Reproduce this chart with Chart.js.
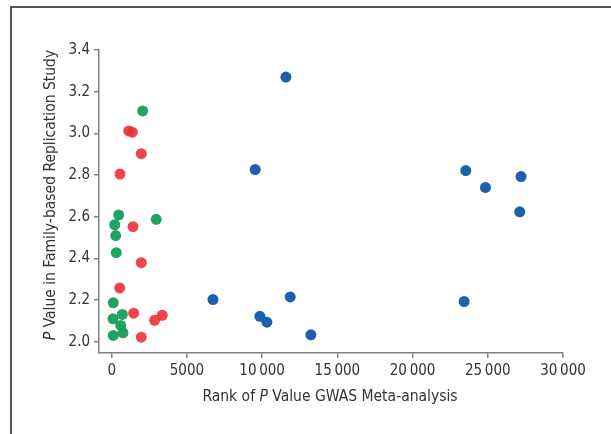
<!DOCTYPE html>
<html>
<head>
<meta charset="utf-8">
<script src="https://cdn.jsdelivr.net/npm/chart.js@4"></script>
<style>
  html, body { margin: 0; padding: 0; background: #fff; }
  #wrap { position: relative; width: 611px; height: 434px; overflow: hidden; }
  #frame { position: absolute; left: 10px; top: 6px; width: 620px; height: 440px;
           border-top: 2px solid #555; border-left: 2px solid #555; }
  .title { position: absolute; font-family: "Liberation Sans Narrow", "DejaVu Sans Condensed", sans-serif;
           font-size: 15.5px; color: #333; white-space: nowrap; }
  #ytitle { left: 50px; top: 195px; transform: translate(-50%, -50%) rotate(-90deg); }
  #xtitle { left: 330px; top: 396px; transform: translate(-50%, -50%); }
</style>
</head>
<body>
<div id="wrap">
  <div id="frame"></div>
  <canvas id="chart" width="611" height="434"></canvas>
  <div class="title" id="ytitle"><i>P</i> Value in Family-based Replication Study</div>
  <div class="title" id="xtitle">Rank of <i>P</i> Value GWAS Meta-analysis</div>
</div>
<script>
// rank of P value in the GWAS meta-analysis (x) and P value in the family study (y)
const greenRank = [2060, 465, 200, 265, 305, 2960, 105, 85, 705, 600, 750, 105];
const greenP = [3.108, 2.609, 2.562, 2.510, 2.428, 2.588, 2.188, 2.111, 2.132, 2.079, 2.044, 2.031];

const redRank = [1130, 1370, 1965, 550, 1415, 1965, 530, 1460, 2855, 3360, 1965];
const redP = [3.012, 3.006, 2.903, 2.805, 2.553, 2.380, 2.259, 2.138, 2.104, 2.128, 2.023];

const blueRank = [11580, 9540, 6730, 11865, 9850, 10315, 13240, 23535, 24845, 27210, 27125, 23425];
const blueP = [3.270, 2.827, 2.203, 2.216, 2.123, 2.095, 2.034, 2.822, 2.741, 2.793, 2.624, 2.194];

const xTicks = [0, 5000, 10000, 15000, 20000, 25000, 30000];
const yTicks = [2.0, 2.2, 2.4, 2.6, 2.8, 3.0, 3.2, 3.4];

const toPoints = (xs, ys) => xs.map((x, i) => ({ x: x, y: ys[i] }));

const font = { family: '"Liberation Sans Narrow", "DejaVu Sans Condensed", sans-serif', size: 15 };
const axisGray = '#808080';

new Chart(document.getElementById('chart').getContext('2d'), {
  type: 'scatter',
  data: {
    datasets: [
      { data: toPoints(greenRank, greenP), backgroundColor: 'rgba(22,158,92,0.95)' },
      { data: toPoints(redRank, redP), backgroundColor: 'rgba(238,52,60,0.92)' },
      { data: toPoints(blueRank, blueP), backgroundColor: 'rgba(20,92,170,0.97)' }
    ]
  },
  options: {
    responsive: false,
    animation: false,
    events: [],
    layout: { padding: { left: 0, right: 48, top: 50, bottom: 0 } },
    elements: { point: { radius: 5.5, borderWidth: 0 } },
    plugins: { legend: { display: false }, tooltip: { enabled: false } },
    scales: {
      x: {
        type: 'linear',
        min: -845,
        max: 30000,
        afterBuildTicks: s => { s.ticks = xTicks.map(v => ({ value: v })); },
        afterFit: s => { s.height = 81; },
        grid: { drawOnChartArea: false, color: axisGray, tickLength: 5, lineWidth: 1.5 },
        border: { color: axisGray, width: 1.5 },
        ticks: {
          font: font,
          color: '#333',
          padding: 4,
          maxRotation: 0,
          callback: v => v >= 10000 ? String(v).replace(/(\d{3})$/, '\u2009$1') : String(v)
        }
      },
      y: {
        min: 1.947,
        max: 3.4,
        afterBuildTicks: s => { s.ticks = yTicks.map(v => ({ value: v })); },
        afterFit: s => { s.width = 99; },
        grid: { drawOnChartArea: false, color: axisGray, tickLength: 5, lineWidth: 1.5 },
        border: { color: axisGray, width: 1.5 },
        ticks: { font: font, color: '#333', padding: 4, callback: v => v.toFixed(1) }
      }
    }
  }
});
</script>
</body>
</html>
